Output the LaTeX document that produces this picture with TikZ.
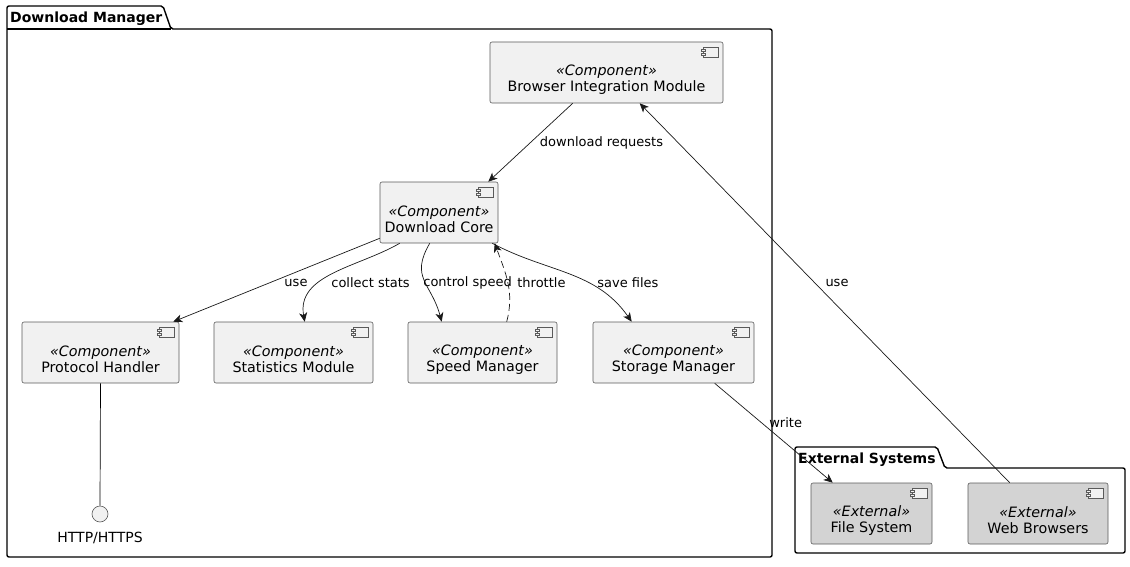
\documentclass[tikz,border=0pt]{standalone}
\usepackage{fontspec}
\setmainfont{DejaVu Sans}
\usetikzlibrary{arrows.meta,calc}
\definecolor{compfill}{HTML}{F1F1F1}
\definecolor{extfill}{HTML}{D3D3D3}
\definecolor{compline}{HTML}{5A5A5A}
\newcommand{\stereo}[1]{{\itshape\guillemotleft #1\guillemotright}}
\tikzset{
  comp/.style={draw=compline, line width=0.6pt, rounded corners=2pt, fill=compfill, inner sep=0pt},
  extcomp/.style={comp, fill=extfill},
  comptext/.style={align=center, font=\fontsize{14.3}{16}\selectfont, inner sep=0pt, yshift=-7pt},
  pkg/.style={draw=black, line width=1.4pt, rounded corners=2pt},
  pkgtitle/.style={font=\bfseries\fontsize{14}{16}\selectfont, anchor=base west, inner sep=0pt},
  arr/.style={-{Stealth[length=9pt,width=8pt,inset=2.5pt]}, line width=0.7pt, draw=black!90},
  lbl/.style={font=\fontsize{13}{15}\selectfont, inner sep=0pt, text=black}
}
\newcommand{\compicon}[1]{%
  \draw[compline, line width=0.5pt, fill=compfill] ($(#1.north east)+(-20,6)$) rectangle ++(15,10);
  \draw[compline, line width=0.5pt, fill=compfill] ($(#1.north east)+(-22,8)$) rectangle ++(4,2);
  \draw[compline, line width=0.5pt, fill=compfill] ($(#1.north east)+(-22,12)$) rectangle ++(4,2);
}
\begin{document}
\begin{tikzpicture}[x=1pt,y=-1pt]
\useasboundingbox (0,0) rectangle (1130,567);
% packages
\draw[pkg] (7,29) -- (7,6) -- (163,6) -- (171,29) -- (772,29) -- (772,557) -- (7,557) -- cycle;
\draw[pkg] (7,29) -- (171,29);
\node[pkgtitle] (dmtitle) at (10,23) {Download Manager};
\draw[pkg] (795,468) -- (795,447) -- (937,447) -- (945,468) -- (1125,468) -- (1125,553) -- (795,553) -- cycle;
\node[pkgtitle] (estitle) at (798,463) {External Systems};
% components
\node[comp, minimum width=233, minimum height=61, label={[comptext]center:{\stereo{Component}\\Browser Integration Module}}] (bim) at (606.5,72.5) {};
\node[comp, minimum width=118, minimum height=61, label={[comptext]center:{\stereo{Component}\\Download Core}}] (dc) at (439,212.5) {};
\node[comp, minimum width=157, minimum height=61, label={[comptext]center:{\stereo{Component}\\Protocol Handler}}] (ph) at (100.5,352.5) {};
\node[comp, minimum width=159, minimum height=61, label={[comptext]center:{\stereo{Component}\\Statistics Module}}] (sm) at (293.5,352.5) {};
\node[comp, minimum width=149, minimum height=61, label={[comptext]center:{\stereo{Component}\\Speed Manager}}] (spm) at (482.5,352.5) {};
\node[comp, minimum width=161, minimum height=61, label={[comptext]center:{\stereo{Component}\\Storage Manager}}] (stm) at (673.5,352.5) {};
\node[extcomp, minimum width=121, minimum height=61, label={[comptext]center:{\stereo{External}\\File System}}] (fs) at (871.5,513.5) {};
\node[extcomp, minimum width=140, minimum height=61, label={[comptext]center:{\stereo{External}\\Web Browsers}}] (wb) at (1038,513.5) {};
\foreach \n in {bim,dc,ph,sm,spm,stm,fs,wb} {\compicon{\n}}
% interface
\node[circle, draw=compline, fill=compfill, line width=0.6pt, minimum size=16pt, inner sep=0pt] (http) at (100,514) {};
\node[lbl, font=\fontsize{14}{16}\selectfont] (httplbl) at (100,538) {HTTP/HTTPS};
\draw[line width=0.7pt, draw=black] (ph.south) -- (http.north);
% connectors
\draw[arr] ($(bim.south west)+(83,0)$) -- ($(dc.north east)+(-10,0)$) node[lbl, at={(601.5,143)}] {download requests};
\draw[arr] ($(wb.north west)+(42,0)$) -- ($(bim.south west)+(150,0)$) node[lbl, at={(837,283)}] {use};
\draw[arr] ($(dc.south west)+(0,-5)$) -- ($(ph.north east)+(-6,0)$) node[lbl, at={(296,283)}] {use};
\draw[arr] ($(dc.south west)+(20,0)$) to[out=-150, in=100] ($(sm.north west)+(91,0)$) node[lbl, anchor=west, at={(331,283)}] {collect stats};
\draw[arr] ($(dc.south west)+(50,0)$) to[out=-120, in=105, looseness=1.3] ($(spm.north west)+(34,0)$) node[lbl, anchor=west, at={(423,283)}] {control speed};
\draw[arr, dash pattern=on 7pt off 4pt] ($(spm.north west)+(99,0)$) to[out=75, in=-70] ($(dc.south west)+(115,0)$) node[lbl, anchor=west, at={(517,283)}] {throttle};
\draw[arr] ($(dc.south east)+(-6,0)$) to[out=-28, in=125] ($(stm.north west)+(39,0)$) node[lbl, anchor=west, at={(597,283)}] {save files};
\draw[arr] ($(stm.south west)+(122,0)$) -- ($(fs.north west)+(22,0)$) node[lbl, anchor=west, at={(769,423)}] {write};
\end{tikzpicture}
\end{document}
